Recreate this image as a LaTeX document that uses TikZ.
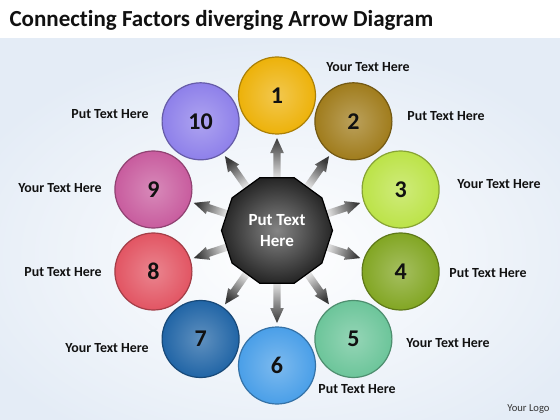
\documentclass[tikz,border=0pt]{standalone}
\usepackage{fontspec}
\setmainfont{Carlito}[Ligatures=NoCommon]
\usetikzlibrary{shapes.geometric,calc}
\pgfdeclarelayer{bg}
\pgfdeclarelayer{arr}
\pgfsetlayers{bg,arr,main}
\definecolor{cA}{HTML}{EDB20A}
\definecolor{cB}{HTML}{A07C1C}
\definecolor{cC}{HTML}{BCE348}
\definecolor{cD}{HTML}{82A623}
\definecolor{cE}{HTML}{6CC59A}
\definecolor{cF}{HTML}{4A9FE8}
\definecolor{cG}{HTML}{2165A6}
\definecolor{cH}{HTML}{E25563}
\definecolor{cI}{HTML}{C85C9E}
\definecolor{cJ}{HTML}{8E80EA}
\definecolor{bgblue}{HTML}{E4ECF6}
\definecolor{txt}{HTML}{111111}
\tikzset{
  ball/.style={circle, minimum size=77pt, inner sep=0pt, draw=#1!72!black,
    line width=1.2pt, inner color=#1!72!white, outer color=#1,
    font=\bfseries\fontsize{24}{24}\selectfont, text=txt},
  lbl/.style={font=\bfseries\fontsize{13.9}{14}\selectfont, text=txt},
  arrowshade/.style={top color=black!4, bottom color=black!78},
  hubstyle/.style={regular polygon, regular polygon sides=10, minimum size=111pt,
    inner sep=0pt, draw=black, line width=1.2pt, inner color=black!48,
    outer color=black!85, text=white, align=center,
    font=\bfseries\fontsize{17}{21}\selectfont}
}
\begin{document}
\begin{tikzpicture}[x=1pt,y=-1pt]
\useasboundingbox (0,0) rectangle (560,420);
\begin{pgfonlayer}{bg}
  \fill[white] (0,0) rectangle (560,420);
  \shade[inner color=white, outer color=bgblue] (-60,38) rectangle (620,470);
  \fill[white] (0,0) rectangle (560,38);
\end{pgfonlayer}
\node[anchor=base west, font=\bfseries\fontsize{23}{23}\selectfont, text=txt] (title) at (6,27) {Connecting Factors diverging Arrow Diagram};
\node[hubstyle] (hub) at (277,230.5) {Put Text\\Here};
\node[ball=cA] (c1) at (277,95.5) {1};
\node[ball=cB] (c2) at (353.4,121.3) {2};
\node[ball=cC] (c3) at (400.6,189.5) {3};
\node[ball=cD] (c4) at (400.6,271.5) {4};
\node[ball=cE] (c5) at (353.4,339) {5};
\node[ball=cF] (c6) at (277,365.5) {6};
\node[ball=cG] (c7) at (200.6,339) {7};
\node[ball=cH] (c8) at (153.4,271.5) {8};
\node[ball=cI] (c9) at (153.4,189.5) {9};
\node[ball=cJ] (c10) at (200.6,121.3) {10};
\begin{pgfonlayer}{arr}
\foreach \k/\ang in {1/180,2/144,3/108,4/72,5/36,6/0,7/-36,8/-72,9/-108,10/-144} {
  \coordinate (t\k) at ($(c\k)!42.5pt!(hub)$);
  \coordinate (h\k) at ($(c\k)!57.5pt!(hub)$);
  \coordinate (s\k) at ($(hub)!48pt!(c\k)$);
  \shade[arrowshade, shading angle=\ang] (t\k)
    -- ($(h\k)!6.8pt!90:(t\k)$) -- ($(h\k)!3.7pt!90:(t\k)$)
    -- ($(s\k)!3.7pt!90:(t\k)$) -- ($(s\k)!3.7pt!-90:(t\k)$)
    -- ($(h\k)!3.7pt!-90:(t\k)$) -- ($(h\k)!6.8pt!-90:(t\k)$) -- cycle;
}
\end{pgfonlayer}
\node[lbl] (l1) at (368,67) {Your Text Here};
\node[lbl] (l2) at (446,116) {Put Text Here};
\node[lbl] (l3) at (499,184) {Your Text Here};
\node[lbl] (l4) at (488,273) {Put Text Here};
\node[lbl] (l5) at (448,343) {Your Text Here};
\node[lbl] (l6) at (357,389) {Put Text Here};
\node[lbl] (l7) at (107,348) {Your Text Here};
\node[lbl] (l8) at (63,272) {Put Text Here};
\node[lbl] (l9) at (60,188) {Your Text Here};
\node[lbl] (l10) at (110,114) {Put Text Here};
\node[font=\fontsize{10.6}{11}\selectfont, text=black!80] (logo) at (528.5,409) {Your Logo};
\end{tikzpicture}
\end{document}
